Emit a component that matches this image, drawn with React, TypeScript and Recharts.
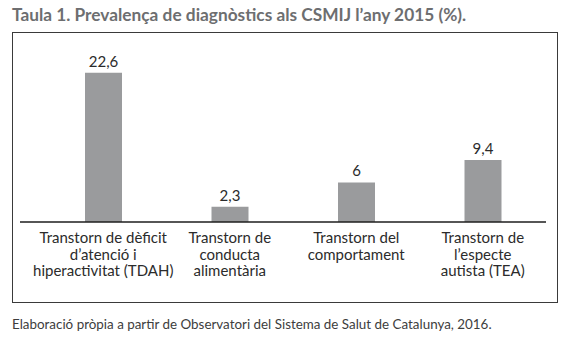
import { Bar, BarChart, LabelList, XAxis, YAxis } from "recharts";

const categories = ["TDAH", "TCA", "TC", "TEA"];
const prevalence = [22.6, 2.3, 6, 9.4];
const tickLines: Record<string, string[]> = {
  TDAH: ["Transtorn de dèficit", "d’atenció i", "hiperactivitat (TDAH)"],
  TCA: ["Transtorn de", "conducta", "alimentària"],
  TC: ["Transtorn del", "comportament"],
  TEA: ["Transtorn de", "l’especte", "autista (TEA)"]
};

const title = "Taula 1. Prevalença de diagnòstics als CSMIJ l’any 2015 (%).";
const source = "Elaboració pròpia a partir de Observatori del Sistema de Salut de Catalunya, 2016.";

const data = categories.map((key, i) => ({ key, value: prevalence[i] }));

const font = "Lato, 'Open Sans', sans-serif";

const MultiLineTick = (props: any) => {
  const { x, y, payload } = props;
  const lines = tickLines[payload.value] ?? [payload.value];
  return (
    <text x={x} y={y} textAnchor="middle" fill="#2b2b2b" fontSize={15} fontFamily={font}>
      {lines.map((line, i) => (
        <tspan key={i} x={x} y={y + 19 + i * 16.5}>
          {line}
        </tspan>
      ))}
    </text>
  );
};

export default function App() {
  return (
    <div
      style={{
        position: "absolute",
        left: 0,
        top: 0,
        width: 568,
        height: 340,
        background: "#fff",
        fontFamily: font
      }}
    >
      <div
        style={{
          position: "absolute",
          left: 12,
          top: 4,
          fontSize: 17.3,
          fontWeight: 700,
          color: "#6d6e70",
          whiteSpace: "nowrap"
        }}
      >
        {title}
      </div>
      <div
        style={{
          position: "absolute",
          left: 12,
          top: 32,
          width: 544,
          height: 269,
          border: "1px solid #3a3a3a"
        }}
      />
      <div style={{ position: "absolute", left: 0, top: 0 }}>
        <BarChart
          width={568}
          height={340}
          data={data}
          margin={{ top: 57, right: 22, bottom: 58, left: 20 }}
          barCategoryGap={45}
        >
          <XAxis
            dataKey="key"
            height={60}
            padding={{ left: 20, right: 0 }}
            axisLine={{ stroke: "#1e1e1e", strokeWidth: 1.5 }}
            tickLine={false}
            tickSize={0}
            interval={0}
            tick={<MultiLineTick />}
          />
          <YAxis hide domain={[0, 25]} />
          <Bar dataKey="value" fill="#9a9b9d" barSize={37} isAnimationActive={false}>
            <LabelList
              dataKey="value"
              position="top"
              offset={6}
              fill="#2b2b2b"
              fontSize={15}
              fontFamily={font}
              formatter={(v: any) => String(v).replace(".", ",")}
            />
          </Bar>
        </BarChart>
      </div>
      <div
        style={{
          position: "absolute",
          left: 12,
          top: 316,
          fontSize: 13.4,
          color: "#3d3d3d",
          whiteSpace: "nowrap"
        }}
      >
        {source}
      </div>
    </div>
  );
}
